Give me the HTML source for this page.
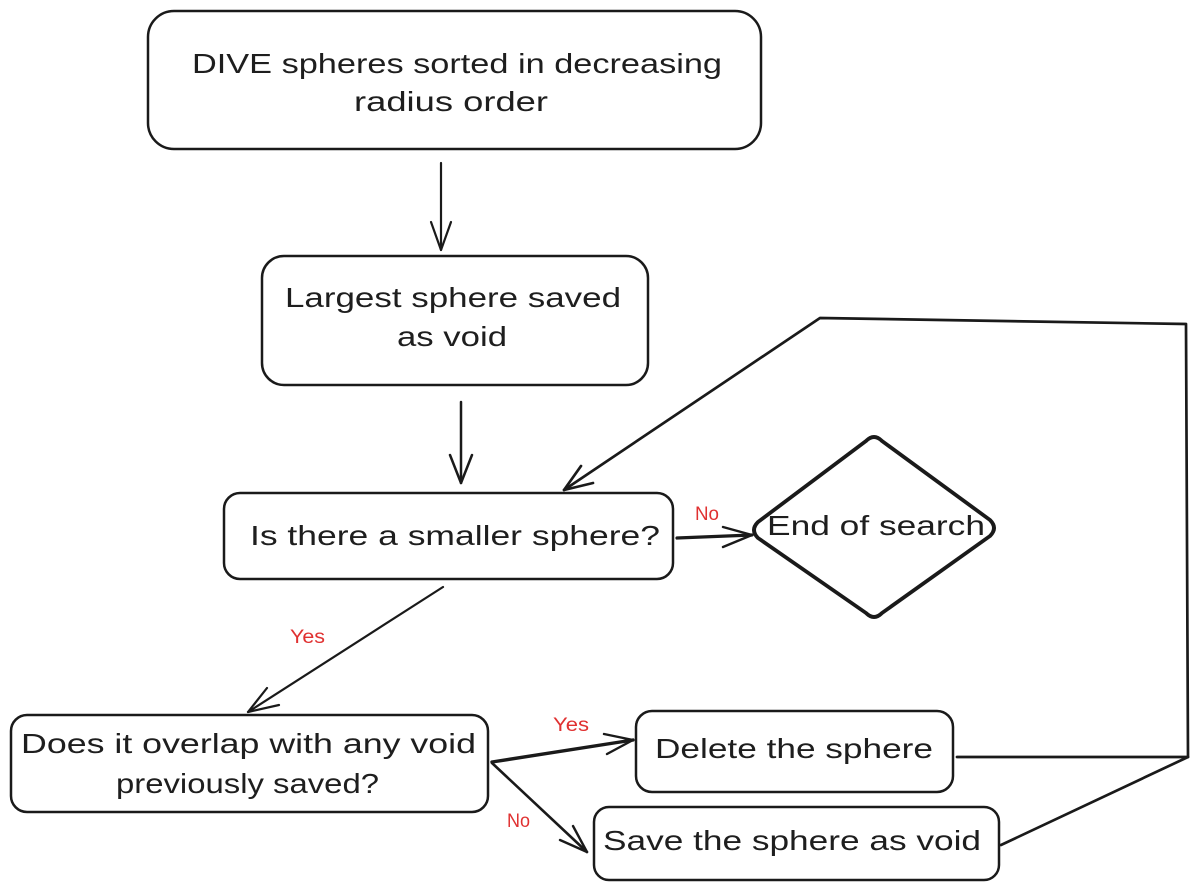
<!DOCTYPE html>
<html>
<head>
<meta charset="utf-8">
<style>
  html, body { margin: 0; padding: 0; background: #ffffff; }
  body { width: 1200px; height: 891px; overflow: hidden; }
  svg { display: block; }
  .t { font-family: "Liberation Sans", "DejaVu Sans", sans-serif; font-size: 28px; fill: #1e1e1e; }
  .r { font-family: "Liberation Sans", "DejaVu Sans", sans-serif; font-size: 19px; fill: #e03131; }
</style>
</head>
<body>
<svg width="1200" height="891" viewBox="0 0 1200 891" xmlns="http://www.w3.org/2000/svg">
  <rect x="0" y="0" width="1200" height="891" fill="#ffffff"/>
  <g fill="none" stroke="#1a1a1a" stroke-linecap="round" stroke-linejoin="round">
    <!-- Box 1 -->
    <rect x="148" y="11" width="613" height="138" rx="26" ry="26" stroke-width="2.5"/>
    <!-- Box 2 -->
    <rect x="262" y="256" width="386" height="129" rx="22" ry="22" stroke-width="2.5"/>
    <!-- Box 3 -->
    <rect x="224" y="493" width="449" height="86" rx="16" ry="16" stroke-width="2.5"/>
    <!-- Diamond -->
    <path d="M866,441 Q874,433 882,441 L990,520 Q998,528 990,536 L882,613 Q874,621 866,613 L758,538 Q750,530 758,522 Z" stroke-width="3.8"/>
    <!-- Box 4 -->
    <rect x="11" y="715" width="477" height="97" rx="16" ry="16" stroke-width="2.5"/>
    <!-- Delete box -->
    <rect x="636" y="711" width="317" height="81" rx="16" ry="16" stroke-width="2.5"/>
    <!-- Save box -->
    <rect x="594" y="807" width="405" height="73" rx="15" ry="15" stroke-width="2.5"/>

    <!-- Arrow 1 -->
    <line x1="441" y1="163" x2="441" y2="250" stroke-width="2.2"/>
    <polyline points="431,222 441,250 451,222" stroke-width="2.2"/>
    <!-- Arrow 2 -->
    <line x1="461" y1="402" x2="461" y2="483" stroke-width="2.5"/>
    <polyline points="450,455 461,483 472,455" stroke-width="2.5"/>
    <!-- No arrow to diamond -->
    <line x1="677" y1="538" x2="752" y2="535" stroke-width="3.2"/>
    <polyline points="723,527 752,535 723,547" stroke-width="2.4"/>
    <!-- Loop back -->
    <polyline points="957,757 1188,757 1186,324 820,318 564,490" stroke-width="2.7"/>
    <line x1="1001" y1="845" x2="1188" y2="757" stroke-width="2.7"/>
    <polyline points="593,483 564,490 581,466" stroke-width="2.7"/>
    <!-- Yes arrow down-left -->
    <line x1="443" y1="587" x2="248" y2="712" stroke-width="2.2"/>
    <polyline points="279,705 248,712 267,688" stroke-width="2.2"/>
    <!-- Yes arrow to delete -->
    <line x1="492" y1="762" x2="633" y2="740" stroke-width="3.4"/>
    <polyline points="607,754 633,740 604,734" stroke-width="2.4"/>
    <!-- No arrow to save -->
    <line x1="492" y1="763" x2="587" y2="852" stroke-width="2.6"/>
    <polyline points="560,840 587,852 573,826" stroke-width="2.4"/>
  </g>

  <!-- Texts -->
  <text class="t" x="192" y="73" textLength="530" lengthAdjust="spacingAndGlyphs">DIVE spheres sorted in decreasing</text>
  <text class="t" x="354" y="111" textLength="194" lengthAdjust="spacingAndGlyphs">radius order</text>
  <text class="t" x="285" y="307" textLength="336" lengthAdjust="spacingAndGlyphs">Largest sphere saved</text>
  <text class="t" x="397" y="346" textLength="110" lengthAdjust="spacingAndGlyphs">as void</text>
  <text class="t" x="250" y="545" textLength="410" lengthAdjust="spacingAndGlyphs">Is there a smaller sphere?</text>
  <text class="t" x="767" y="535" textLength="218" lengthAdjust="spacingAndGlyphs">End of search</text>
  <text class="t" x="21" y="753" textLength="455" lengthAdjust="spacingAndGlyphs">Does it overlap with any void</text>
  <text class="t" x="116" y="793" textLength="263" lengthAdjust="spacingAndGlyphs">previously saved?</text>
  <text class="t" x="655" y="758" textLength="278" lengthAdjust="spacingAndGlyphs">Delete the sphere</text>
  <text class="t" x="603" y="850" textLength="378" lengthAdjust="spacingAndGlyphs">Save the sphere as void</text>

  <!-- Red labels -->
  <text class="r" x="695" y="520" textLength="24" lengthAdjust="spacingAndGlyphs">No</text>
  <text class="r" x="290" y="643" textLength="35" lengthAdjust="spacingAndGlyphs">Yes</text>
  <text class="r" x="553" y="731" textLength="36" lengthAdjust="spacingAndGlyphs">Yes</text>
  <text class="r" x="507" y="827" textLength="23" lengthAdjust="spacingAndGlyphs">No</text>
</svg>
</body>
</html>
